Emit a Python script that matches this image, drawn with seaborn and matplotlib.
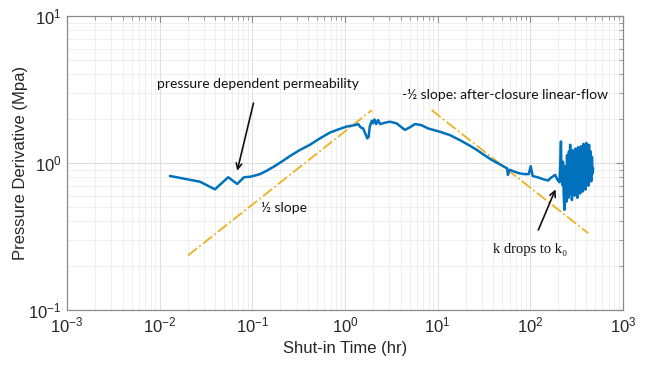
import numpy as np
import pandas as pd
import seaborn as sns
import matplotlib.pyplot as plt
from matplotlib.ticker import FixedLocator, LogFormatterMathtext, NullFormatter

# Shut-in time (hr) and pressure derivative (MPa)
time_hr = [
    0.0129, 0.0272, 0.0395, 0.0549, 0.0687, 0.0813, 0.096, 0.121, 0.143, 0.175,
    0.215, 0.255, 0.326, 0.418, 0.536, 0.687, 0.843, 1.04, 1.28, 1.39,
    1.47, 1.57, 1.68, 1.74, 1.80, 1.85, 1.95, 2.01, 2.08, 2.17,
    2.28, 2.39, 2.70, 3.05, 3.60, 4.43, 5.03, 5.67, 6.67, 7.85,
    10.6, 13.5, 17.4, 22.3, 26.3, 32.0, 38.2, 46.8, 56.0, 57.3,
    59.8, 67.3, 76.5, 86.7, 96.0, 101, 106, 120, 138, 156,
    164, 185, 197,
    206, 210, 214, 217, 221, 225, 229, 233, 237, 241,
    245, 249, 253, 257, 261, 265, 269, 273, 277, 281,
    286, 291, 296, 301, 306, 311, 316, 321, 327, 333,
    339, 345, 351, 357, 363, 369, 375, 381, 388, 395,
    402, 409, 416, 423, 430, 438, 446, 454, 462, 470, 476,
]
deriv_mpa = [
    0.816, 0.746, 0.662, 0.80, 0.72, 0.80, 0.807, 0.84, 0.886, 0.954,
    1.036, 1.116, 1.226, 1.33, 1.47, 1.61, 1.69, 1.77, 1.81, 1.84,
    1.75, 1.72, 1.55, 1.47, 1.51, 1.77, 1.94, 1.86, 1.98, 1.84,
    1.96, 1.84, 1.88, 1.91, 1.86, 1.68, 1.75, 1.84, 1.81, 1.72,
    1.63, 1.55, 1.43, 1.31, 1.23, 1.13, 1.05, 0.98, 0.92, 0.83,
    0.90, 0.873, 0.85, 0.84, 0.84, 0.95, 0.815, 0.80, 0.775, 0.76,
    0.787, 0.83, 0.766,
    0.74, 0.95, 1.40, 0.80, 0.71, 1.02, 0.62, 0.48, 0.95, 0.60,
    0.545, 1.13, 0.70, 0.58, 1.20, 0.65, 1.33, 0.62, 1.10, 0.56,
    1.22, 0.66, 1.15, 0.60, 1.25, 0.70, 1.12, 0.58, 1.28, 0.66,
    1.18, 0.62, 1.30, 0.70, 1.15, 0.64, 1.35, 0.72, 1.22, 0.66,
    1.37, 0.74, 1.25, 0.70, 1.33, 0.78, 1.20, 0.75, 1.10, 0.85, 0.92,
]

# Reference slope lines (end points)
half_slope_t = [0.0202, 1.95]
half_slope_p = [0.235, 2.29]
neg_half_slope_t = [8.6, 421.0]
neg_half_slope_p = [2.29, 0.333]

# Axis decades
x_decades = [1e-3, 1e-2, 1e-1, 1e0, 1e1, 1e2, 1e3]
y_decades = [1e-1, 1e0, 1e1]

sns.set_theme(style="white")
plt.rcParams['font.family'] = ['Liberation Sans', 'DejaVu Sans']
plt.rcParams['mathtext.fontset'] = 'custom'
plt.rcParams['mathtext.rm'] = 'Liberation Sans'
plt.rcParams['mathtext.it'] = 'Liberation Sans:italic'
plt.rcParams['axes.unicode_minus'] = False

fig = plt.figure(figsize=(6.46, 3.68), dpi=100)
ax = fig.add_axes([67 / 646, 1 - 310 / 368, 556 / 646, 294 / 368])

slope_color = '#EDB120'
curve_color = '#0072BD'

sns.lineplot(x=half_slope_t, y=half_slope_p, ax=ax, color=slope_color,
             linestyle='-.', linewidth=1.3, sort=False, estimator=None)
sns.lineplot(x=neg_half_slope_t, y=neg_half_slope_p, ax=ax, color=slope_color,
             linestyle='-.', linewidth=1.3, sort=False, estimator=None)

df = pd.DataFrame({'t': time_hr, 'p': deriv_mpa})
sns.lineplot(data=df, x='t', y='p', ax=ax, color=curve_color, linewidth=1.8,
             sort=False, estimator=None)

ax.set_xscale('log')
ax.set_yscale('log')
ax.set_xlim(1e-3, 1e3)
ax.set_ylim(1e-1, 1e1)

x_minor = [m * d for d in x_decades[:-1] for m in range(2, 10)]
y_minor = [m * d for d in y_decades[:-1] for m in range(2, 10)]
ax.xaxis.set_major_locator(FixedLocator(x_decades))
ax.yaxis.set_major_locator(FixedLocator(y_decades))
ax.xaxis.set_minor_locator(FixedLocator(x_minor))
ax.yaxis.set_minor_locator(FixedLocator(y_minor))
ax.xaxis.set_major_formatter(LogFormatterMathtext())
ax.yaxis.set_major_formatter(LogFormatterMathtext())
ax.xaxis.set_minor_formatter(NullFormatter())
ax.yaxis.set_minor_formatter(NullFormatter())

ax.grid(which='major', color='#dedede', linewidth=0.7)
ax.grid(which='minor', color='#ececec', linewidth=0.6)
ax.set_axisbelow(True)

for sp in ax.spines.values():
    sp.set_color('#8a8a8a')
    sp.set_linewidth(0.9)

ax.tick_params(which='both', direction='in', top=True, right=True,
               color='#8a8a8a', labelcolor='#262626')
ax.tick_params(which='major', length=5, width=0.8, labelsize=12, pad=4)
ax.tick_params(which='minor', length=3, width=0.6)

ax.set_xlabel('Shut-in Time (hr)', fontsize=12, color='#262626', labelpad=4)
ax.set_ylabel('Pressure Derivative (Mpa)', fontsize=12, color='#262626', labelpad=0)

note_font = ['Lato', 'DejaVu Sans']
ax.annotate('pressure dependent permeability', xy=(0.0687, 0.886), xytext=(0.115, 3.42),
            ha='center', va='center', fontsize=10, family=note_font, color='#111111',
            arrowprops=dict(arrowstyle='->', color='#111111', lw=1.2,
                            shrinkA=7, shrinkB=0))
ax.text(0.217, 0.494, '½ slope', ha='center', va='center', fontsize=10,
        family=note_font, color='#111111')
ax.text(53.1, 2.90, '-½ slope: after-closure linear-flow', ha='center', va='center',
        fontsize=10, family=note_font, color='#111111')
ax.annotate('k drops to k₀', xy=(187, 0.662), xytext=(98.9, 0.256),
            ha='center', va='center', fontsize=10.5,
            family=['Liberation Serif', 'DejaVu Serif'], color='#111111',
            arrowprops=dict(arrowstyle='->', color='#111111', lw=1.2,
                            shrinkA=8, shrinkB=0))

fig.savefig('out.png', dpi=100)
